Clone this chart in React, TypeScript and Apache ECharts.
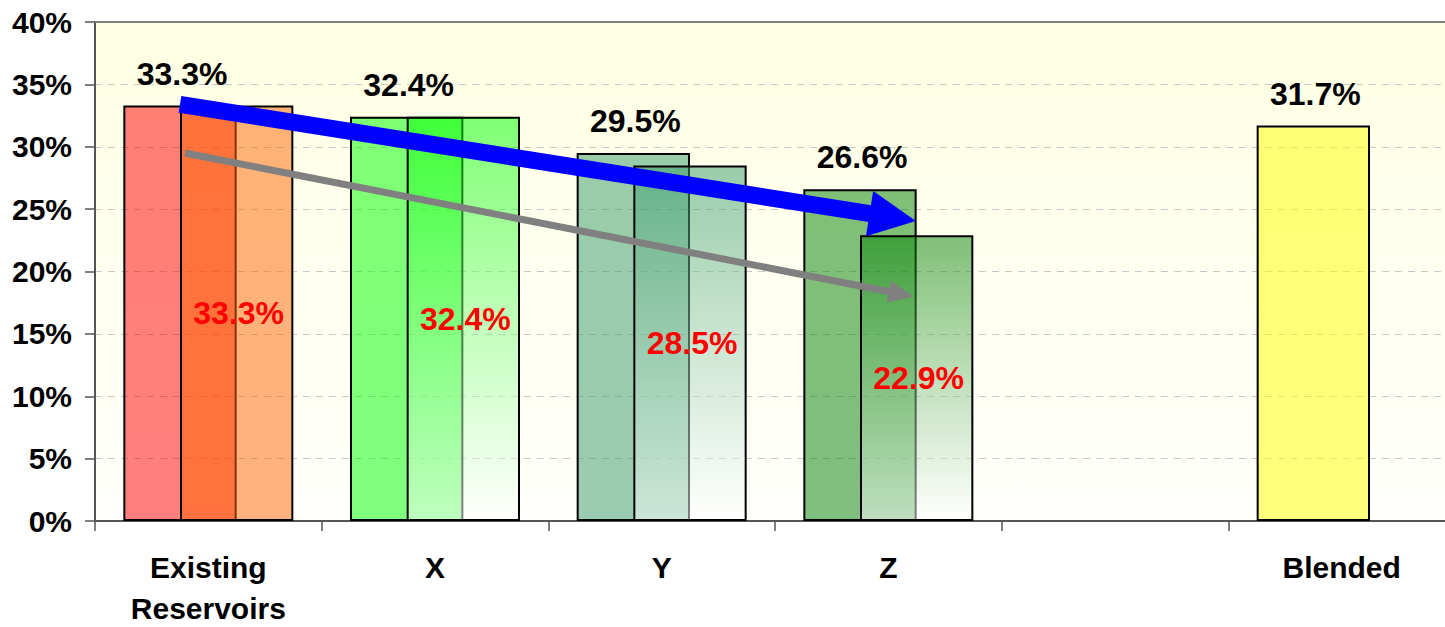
import React, { useEffect, useRef } from "react";
import * as echarts from "echarts";

const categories = ["Existing\nReservoirs", "X", "Y", "Z", "", "Blended"];
const firstBarValues: (number | null)[] = [33.3, 32.4, 29.5, 26.6, null, 31.7];
const secondBarValues: (number | null)[] = [33.3, 32.4, 28.5, 22.9, null, null];
const yMin = 0;
const yMax = 40;
const yStep = 5;

const firstBarColors = ["#FF0000", "#00FF00", "#339966", "#008000", "#FFFFFF", "#FFFF00"];
const secondBarColors = ["#FF6600", "#00FF00", "#339966", "#008000", "#FFFFFF", "#FFFFFF"];
const secondBarFades = [false, true, true, true, false, false];

// arrow anchors: [category index, offset as fraction of category width, value in %]
const blueArrowFrom = [0, -0.125, 33.4];
const blueArrowTo = [3, 0.122, 24.05];
const grayArrowFrom = [0, -0.103, 29.5];
const grayArrowTo = [3, 0.11, 18.0];

const FONT = "'Liberation Sans', Arial, sans-serif";

function hexToRgba(hex: string, a: number) {
  const r = parseInt(hex.slice(1, 3), 16);
  const g = parseInt(hex.slice(3, 5), 16);
  const b = parseInt(hex.slice(5, 7), 16);
  return `rgba(${r},${g},${b},${a})`;
}

export default function App() {
  const ref = useRef<HTMLDivElement>(null);

  useEffect(() => {
    if (!ref.current) return;
    const chart = echarts.init(ref.current, undefined, { renderer: "svg" });

    const firstData = firstBarValues.map((v, i) =>
      v == null
        ? "-"
        : {
            value: v,
            itemStyle: { color: hexToRgba(firstBarColors[i], 0.5) },
          }
    );
    const secondData = secondBarValues.map((v, i) =>
      v == null
        ? "-"
        : {
            value: v,
            itemStyle: {
              color: secondBarFades[i]
                ? new echarts.graphic.LinearGradient(0, 0, 0, 1, [
                    { offset: 0, color: hexToRgba(secondBarColors[i], 0.5) },
                    { offset: 1, color: "rgba(255,255,255,0.5)" },
                  ])
                : hexToRgba(secondBarColors[i], 0.5),
            },
          }
    );

    const axisFont = { fontFamily: FONT, fontSize: 30, fontWeight: "bold" as const };
    const dataFont = { fontFamily: FONT, fontSize: 32, fontWeight: "bold" as const };
    const catLabelStyle = { fontFamily: FONT, fontSize: 30, fontWeight: "bold" as const, color: "#000" };

    chart.setOption({
      animation: false,
      grid: {
        left: 95,
        top: 22,
        right: -10,
        bottom: 106,
        show: true,
        borderWidth: 0,
        containLabel: false,
        outerBoundsMode: "none",
        backgroundColor: new echarts.graphic.LinearGradient(0, 0, 0, 1, [
          { offset: 0, color: "#FFFFE3" },
          { offset: 1, color: "#FFFFFC" },
        ]),
      },
      xAxis: [
        {
          type: "category",
          data: categories,
          position: "bottom",
          axisLine: { show: true, lineStyle: { color: "#555", width: 2 } },
          axisTick: { show: true, interval: 0, length: 10, lineStyle: { color: "#555", width: 1.5 } },
          axisLabel: {
            interval: 0,
            margin: 16,
            formatter: (v: string) => {
              if (!v) return "";
              const lines = v.split("\n");
              return lines.map((l, i) => (i === 0 ? `{a|${l}}` : `{b|${l}}`)).join("\n");
            },
            rich: {
              a: { ...catLabelStyle, lineHeight: 60 },
              b: { ...catLabelStyle, lineHeight: 22 },
            },
          },
          splitLine: { show: false },
        },
        {
          type: "category",
          data: categories,
          position: "top",
          axisLine: { show: true, lineStyle: { color: "#808080", width: 2 } },
          axisTick: { show: false },
          axisLabel: { show: false },
          splitLine: { show: false },
        },
      ],
      yAxis: {
        type: "value",
        min: yMin,
        max: yMax,
        interval: yStep,
        axisLine: { show: true, lineStyle: { color: "#555", width: 2 } },
        axisTick: { show: true, length: 10, lineStyle: { color: "#555", width: 1.5 } },
        axisLabel: {
          formatter: "{value}%",
          color: "#000",
          ...axisFont,
          margin: 23,
        },
        splitLine: {
          show: true,
          lineStyle: { color: "#C8C8C8", width: 1, type: [7, 6] },
        },
      },
      series: [
        {
          type: "bar",
          xAxisIndex: 0,
          yAxisIndex: 0,
          data: firstData,
          barWidth: "50%",
          barGap: "-50%",
          itemStyle: { borderColor: "#000", borderWidth: 2 },
          label: {
            show: true,
            position: "top",
            distance: 16,
            offset: [2, 0],
            color: "#000",
            ...dataFont,
            formatter: (p: any) => `${Number(p.value).toFixed(1)}%`,
          },
        },
        {
          type: "bar",
          xAxisIndex: 0,
          yAxisIndex: 0,
          data: secondData,
          barWidth: "50%",
          barGap: "-50%",
          itemStyle: { borderColor: "#000", borderWidth: 2 },
          label: {
            show: true,
            position: "inside",
            offset: [2, 0],
            color: "#FF0000",
            ...dataFont,
            formatter: (p: any) => `${Number(p.value).toFixed(1)}%`,
          },
        },
      ],
    });

    const finder = { xAxisIndex: 0, yAxisIndex: 0 };
    const c0 = chart.convertToPixel(finder, [0, 0]) as number[];
    const c1 = chart.convertToPixel(finder, [1, 0]) as number[];
    const catW = c1[0] - c0[0];
    const toPx = (a: number[]) => {
      const p = chart.convertToPixel(finder, [a[0], a[2]]) as number[];
      return [p[0] + a[1] * catW, p[1]];
    };

    const makeArrow = (
      from: number[],
      to: number[],
      color: string,
      shaftW: number,
      headLen: number,
      headHalf: number
    ) => {
      const s = toPx(from);
      const t = toPx(to);
      const dx = t[0] - s[0];
      const dy = t[1] - s[1];
      const len = Math.sqrt(dx * dx + dy * dy);
      const ux = dx / len;
      const uy = dy / len;
      const nx = -uy;
      const ny = ux;
      const bx = t[0] - ux * headLen;
      const by = t[1] - uy * headLen;
      return [
        {
          type: "line",
          z: 100,
          shape: { x1: s[0], y1: s[1], x2: bx + ux * 2, y2: by + uy * 2 },
          style: { stroke: color, lineWidth: shaftW, lineCap: "butt" },
        },
        {
          type: "polygon",
          z: 100,
          shape: {
            points: [
              [bx + nx * headHalf, by + ny * headHalf],
              [t[0], t[1]],
              [bx - nx * headHalf, by - ny * headHalf],
            ],
          },
          style: { fill: color },
        },
      ];
    };

    chart.setOption({
      graphic: [
        ...makeArrow(grayArrowFrom, grayArrowTo, "#808080", 7, 25, 11),
        ...makeArrow(blueArrowFrom, blueArrowTo, "#0000FF", 17, 47, 23),
      ],
    });

    return () => chart.dispose();
  }, []);

  return (
    <div
      ref={ref}
      style={{ position: "fixed", left: 0, top: 0, width: 1445, height: 627, background: "#fff" }}
    />
  );
}
